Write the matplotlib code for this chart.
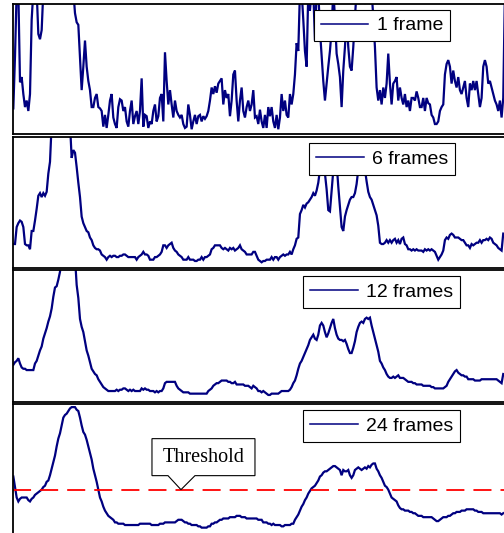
import numpy as np
import matplotlib.pyplot as plt
from matplotlib.lines import Line2D
from matplotlib.patches import Polygon
from matplotlib.transforms import Affine2D

# motion score per frame (percent of panel height), averaged over 1/6/12/24 frames
score_1 = [
    20, 60, 110, 110, 40, 44, 31, 21, 26, 18,
    31, 88, 110, 110, 110, 77, 73, 80, 110, 110,
    110, 110, 110, 110, 110, 110, 110, 110, 110, 110,
    110, 110, 110, 110, 110, 110, 110, 93, 86, 84,
    59, 34, 52, 72, 52, 41, 34, 21, 21, 28,
    31, 21, 20, 18, 6, 15, 5, 15, 26, 31,
    13, 8, 5, 21, 27, 26, 18, 21, 10, 6,
    18, 26, 8, 14, 18, 8, 18, 43, 6, 15,
    14, 5, 10, 8, 18, 23, 10, 14, 28, 31,
    10, 63, 41, 23, 34, 23, 13, 26, 18, 15,
    13, 15, 8, 5, 6, 23, 15, 4, 10, 15,
    8, 14, 15, 10, 14, 12, 14, 18, 26, 36,
    31, 37, 32, 39, 41, 43, 23, 34, 28, 31,
    14, 26, 46, 49, 26, 10, 26, 36, 18, 13,
    21, 26, 18, 23,
    34, 13, 14, 8, 19, 10, 5, 15, 5, 21,
    14, 21, 10, 5, 15, 4, 13, 31, 18, 26,
    15, 13, 31, 23, 31, 46, 70, 64, 110, 110,
    88, 64, 52, 110, 95, 110, 110, 72, 110, 110,
    80, 60, 41, 26, 39, 52, 64, 80, 110, 90,
    62, 54, 44, 21, 49, 67, 90, 67, 52, 49,
    67, 90, 110, 110, 100, 110, 110, 100, 110, 110,
    100, 110, 90, 67, 36, 26, 34, 23, 36, 28,
    39, 62, 39, 23, 39, 41, 44, 26, 36, 28,
    23, 31, 21, 26, 18, 28, 28, 26, 33, 28,
    21, 21, 28, 18, 28, 24, 23, 15, 13, 8,
    8, 10, 18, 21, 23, 46, 54, 57, 52, 39,
    49, 41, 36, 44, 34, 31, 36, 41, 28, 21,
    39, 34, 41, 34, 41, 31, 21, 28, 52, 57,
    52, 39, 41, 36, 31, 26, 23, 18, 26, 13,
    28, 110,
]

score_6 = [
    18, 18, 31, 34, 36, 35, 31, 18, 17, 17,
    14, 28, 28, 36, 45, 55, 57, 54, 57, 55,
    58, 72, 81, 110, 110, 110, 110, 110, 110, 110,
    110, 110, 110, 110, 110, 84, 90, 88, 77, 65,
    54, 39, 34, 31, 28, 27, 23, 21, 17, 15,
    14, 14, 13, 10, 9, 8, 6, 8, 9, 8,
    9, 9, 8, 8, 9, 9, 10, 10, 9, 8,
    8, 8, 8, 8, 6, 8, 9, 10, 12, 10,
    10, 9, 6, 6, 6, 8, 8, 9, 10, 12,
    17, 17, 15, 17, 18, 19, 15, 13, 12, 10,
    9, 8, 6, 6, 6, 8, 6, 6, 6, 5,
    5, 6, 6, 8, 6, 8, 8, 9, 10, 14,
    15, 17, 17, 17, 17, 15, 14, 15, 14, 13,
    15, 14, 15, 13, 14, 15, 17, 14, 13, 12,
    10, 10, 10, 10,
    12, 12, 9, 6, 5, 4, 5, 5, 6, 6,
    6, 8, 6, 8, 8, 6, 8, 9, 10, 9,
    10, 10, 12, 10, 14, 17, 22, 23, 41, 44,
    48, 46, 49, 50, 52, 54, 57, 55, 59, 65,
    75, 85, 80, 72, 60, 44, 43, 59, 75, 90,
    80, 62, 46, 31, 28, 39, 44, 48, 52, 54,
    54, 57, 64, 75, 85, 90, 85, 75, 66, 58,
    54, 52, 48, 44, 40, 32, 19, 18, 18, 19,
    21, 19, 21, 19, 21, 22, 19, 21, 18, 22,
    23, 18, 17, 14, 14, 13, 14, 13, 14, 13,
    13, 13, 12, 14, 13, 14, 13, 14, 13, 12,
    9, 6, 8, 10, 13, 21, 23, 22, 25, 26,
    25, 23, 23, 23, 22, 21, 21, 19, 17, 17,
    15, 18, 17, 18, 19, 19, 21, 19, 21, 21,
    22, 21, 23, 22, 19, 18, 17, 15, 14, 13,
    26,
]

score_12 = [
    28, 30, 31, 33, 29, 26, 25, 25, 24, 24,
    24, 24, 24, 29, 31, 35, 39, 42, 48, 52,
    56, 61, 65, 71, 80, 87, 88, 93, 99, 110,
    110, 110, 110, 110, 110, 110, 110, 110, 89, 79,
    63, 57, 53, 46, 39, 35, 30, 25, 23, 21,
    20, 17, 15, 13, 11, 10, 9, 8, 8, 8,
    8, 8, 9, 8, 9, 9, 10, 10, 9, 8,
    9, 8, 9, 8, 8, 8, 8, 10, 9, 10,
    9, 9, 8, 8, 8, 7, 8, 7, 8, 8,
    10, 14, 15, 15, 15, 15, 15, 15, 12, 10,
    9, 8, 7, 7, 7, 7, 6, 6, 6, 6,
    6, 6, 6, 6, 6, 6, 6, 8, 9, 10,
    12, 13, 14, 14, 15, 16, 16, 16, 16, 15,
    15, 14, 14, 15, 13, 13, 13, 13, 13, 12,
    12, 12, 11, 10,
    12, 11, 10, 8, 8, 7, 8, 7, 6, 5,
    5, 6, 6, 6, 6, 6, 7, 8, 8, 8,
    8, 8, 9, 11, 14, 16, 20, 25, 29, 31,
    34, 37, 40, 43, 47, 49, 51, 48, 47, 51,
    58, 60, 58, 53, 49, 52, 56, 60, 63, 56,
    51, 48, 47, 47, 46, 47, 44, 40, 37, 37,
    41, 46, 53, 57, 60, 61, 60, 63, 64, 63,
    64, 58, 53, 48, 43, 38, 31, 29, 26, 24,
    21, 19, 18, 18, 19, 18, 19, 20, 18, 18,
    18, 17, 16, 15, 15, 15, 14, 14, 13, 13,
    13, 13, 12, 12, 12, 12, 12, 11, 11, 10,
    10, 10, 10, 10, 10, 11, 12, 15, 17, 19,
    21, 23, 24, 22, 21, 20, 20, 19, 19, 17,
    17, 17, 17, 16, 16, 16, 16, 17, 17, 17,
    17, 17, 17, 17, 17, 17, 17, 16, 15, 14,
    21,
]

score_24 = [
    45, 37, 29, 26, 28, 29, 29, 29, 29, 27,
    26, 28, 29, 31, 32, 33, 34, 35, 37, 38,
    41, 42, 46, 51, 56, 61, 68, 74, 78, 84,
    90, 92, 93, 95, 97, 98, 98, 98, 96, 95,
    90, 84, 79, 77, 73, 68, 63, 58, 51, 46,
    41, 35, 29, 26, 22, 19, 17, 15, 14, 13,
    12, 10, 10, 9, 9, 9, 9, 8, 8, 8,
    8, 8, 8, 8, 8, 8, 9, 9, 9, 9,
    9, 9, 9, 8, 8, 8, 8, 8, 9, 9,
    9, 10, 10, 10, 10, 10, 10, 10, 11, 12,
    12, 12, 11, 10, 10, 9, 9, 8, 8, 8,
    8, 7, 7, 6, 6, 6, 6, 7, 7, 9,
    9, 10, 10, 11, 12, 12, 13, 13, 13, 13,
    14, 14, 14, 14, 15, 15, 15, 14, 14, 14,
    13, 13, 13, 13,
    13, 13, 13, 12, 12, 12, 10, 10, 10, 9,
    9, 8, 9, 8, 8, 8, 8, 7, 7, 8,
    8, 8, 8, 9, 9, 12, 14, 16, 19, 22,
    24, 27, 29, 32, 34, 36, 37, 38, 40, 42,
    45, 46, 48, 49, 49, 50, 51, 52, 53, 53,
    52, 51, 50, 46, 50, 49, 49, 50, 46, 44,
    46, 50, 51, 52, 51, 50, 51, 52, 51, 53,
    52, 54, 55, 55, 51, 49, 46, 44, 41, 38,
    37, 35, 32, 29, 28, 27, 26, 23, 21, 20,
    20, 19, 19, 19, 18, 18, 17, 17, 16, 15,
    15, 15, 14, 14, 14, 14, 14, 14, 13, 12,
    11, 11, 12, 13, 14, 14, 14, 15, 15, 16,
    17, 17, 18, 18, 18, 19, 19, 19, 20, 20,
    20, 20, 20, 19, 19, 18, 18, 18, 17, 17,
    17, 17, 17, 17, 17, 17, 17, 17, 17, 16,
    17,
]

series = [score_1, score_6, score_12, score_24]
labels = ["1 frame", "6 frames", "12 frames", "24 frames"]
threshold = 35
threshold_frame = 100.6

line_color = "#000080"

fig = plt.figure(figsize=(5.04, 5.33), dpi=100)

# panel rectangles (left, bottom, width, height) in figure fraction
panel_rects = [
    (0.0258, 0.7477, 0.978, 0.2448),
    (0.0258, 0.4981, 0.978, 0.2448),
    (0.0258, 0.2467, 0.978, 0.2458),
    (0.0258, -0.0047, 0.978, 0.2458),
]

axes = []
for rect, vals, lab in zip(panel_rects, series, labels):
    ax = fig.add_axes(rect)
    frames = np.arange(len(vals))
    ax.plot(frames, vals, color=line_color, lw=1.6, solid_joinstyle="miter")
    ax.set_xlim(-0.2, 295.6)
    ax.set_ylim(0, 100)
    ax.set_xticks([])
    ax.set_yticks([])
    for sp in ax.spines.values():
        sp.set_linewidth(1.3)
        sp.set_color("black")
    handle = Line2D([], [], color=line_color, lw=1.1)
    leg = ax.legend([handle], [lab], loc="upper center",
                    bbox_to_anchor=(0.7485, 0.955), borderaxespad=0,
                    prop={"family": "Liberation Sans", "size": 14},
                    handlelength=2.45, handletextpad=0.42, borderpad=0.36,
                    fancybox=False, framealpha=1, edgecolor="black")
    leg.get_frame().set_linewidth(0.8)
    axes.append(ax)

# threshold line + callout on the bottom panel
ax4 = axes[3]
ax4.axhline(threshold, color="#ff0000", lw=1.3, dashes=(10, 5))

fig.canvas.draw()
tx, ty = ax4.transData.transform((threshold_frame, threshold))
callout = [(0, 0), (-13, 14), (-29, 14), (-29, 51), (74, 51),
           (74, 14), (14, 14)]
tr = Affine2D().translate(tx, ty)
poly = Polygon(callout, closed=True, facecolor="white", edgecolor="black",
               lw=0.8, transform=tr, zorder=5)
fig.add_artist(poly)
fig.text(tx + 22.5, ty + 32.5, "Threshold", transform=None,
         ha="center", va="center", family="Liberation Serif", fontsize=14.5,
         zorder=6)

fig.savefig("out.png", dpi=100)
